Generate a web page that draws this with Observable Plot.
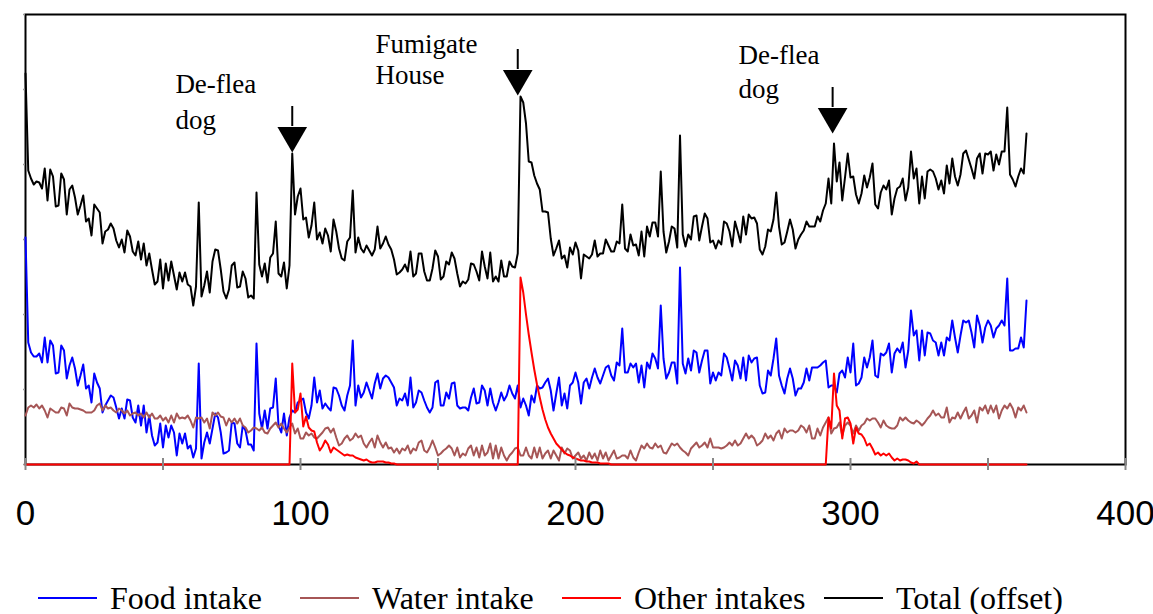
<!DOCTYPE html>
<html><head><meta charset="utf-8">
<script src="https://cdn.jsdelivr.net/npm/d3@7"></script>
<script src="https://cdn.jsdelivr.net/npm/@observablehq/plot@0.6"></script>
<style>
body{margin:0;background:#fff;}
#chart svg{display:block}
#legend{display:flex;align-items:center;height:40px;margin-top:33px;padding-left:38px;font-family:"Liberation Serif","Times New Roman",serif;font-size:32px;color:#000}
.item{width:262px;flex:none;display:flex;align-items:center;white-space:nowrap}
.sw{width:59px;height:2px;margin-right:13px;flex:none}
</style></head><body>
<div id="chart"></div>
<div id="legend"></div>
<script>
// Daily values (arbitrary units), day 0..364
const foodIntake = [
227,122,112,108,108,111,102,127,102,124,
119,91,92,119,114,86,99,107,96,79,
89,100,76,79,62,91,82,76,52,59,
64,69,67,57,46,56,46,65,64,47,
42,59,39,59,32,49,29,19,22,41,
17,39,27,39,32,9,31,21,31,16,
19,7,16,101,6,22,32,21,36,51,
47,32,11,12,14,42,41,21,17,39,
34,20,20,14,121,51,36,54,36,56,
57,86,39,32,51,29,47,54,52,62,
64,66,52,46,59,87,62,74,56,61,
57,54,77,76,69,59,54,69,79,124,
59,79,67,72,82,74,66,81,91,76,
86,89,87,82,77,59,66,64,71,59,
87,57,62,74,72,64,57,52,57,82,
84,59,59,72,66,81,82,59,56,57,
57,54,67,76,61,62,79,74,59,76,
62,54,62,72,64,69,79,71,66,79,
57,66,59,49,69,62,79,76,77,82,
86,74,54,71,87,59,71,56,79,82,
92,82,61,82,86,76,87,96,87,81,
89,97,99,89,84,102,99,136,92,92,
101,97,101,82,99,77,102,96,111,106,
96,159,106,86,92,102,102,81,197,101,
91,106,94,114,112,92,104,114,114,81,
92,84,92,89,111,107,96,84,104,99,
86,107,84,109,102,106,107,79,71,72,
94,89,106,126,89,79,71,86,96,86,
69,76,76,82,96,84,97,97,97,99,
102,104,77,79,79,72,91,94,87,107,
92,121,79,81,87,107,97,107,124,89,
87,111,109,112,121,92,111,116,112,122,
97,114,154,129,134,104,134,109,132,131,
124,122,109,122,109,127,124,144,127,112,
129,144,142,144,132,117,149,139,122,137,
144,139,127,136,139,144,139,186,114,114,
116,116,127,117,164];

const waterIntake = [
49,57,59,57,60,56,59,54,47,56,
54,52,52,57,56,49,61,57,56,56,
55,54,52,52,52,54,59,61,54,59,
56,57,54,52,56,54,51,54,49,51,
52,49,51,47,52,47,51,46,46,49,
44,47,42,49,42,51,46,47,46,49,
44,37,47,46,47,42,46,36,52,49,
52,48,47,39,46,42,46,41,46,39,
37,32,34,37,36,34,37,32,31,36,
39,42,37,41,36,32,37,41,31,36,
26,26,32,29,31,27,26,29,32,36,
37,32,36,27,19,21,26,29,24,26,
31,27,29,21,17,22,26,17,29,22,
17,22,16,17,12,16,11,16,14,19,
11,16,14,22,24,14,12,17,24,17,
9,11,14,16,19,16,9,17,7,11,
9,16,19,9,17,7,19,9,12,21,
6,19,6,17,9,4,9,12,16,17,
9,9,17,9,6,17,7,17,6,11,
14,6,14,9,4,17,11,16,14,6,
9,12,6,9,4,12,6,11,4,14,
6,12,4,9,14,6,7,9,9,6,
14,7,4,12,19,16,21,17,16,21,
17,19,12,11,16,21,19,21,17,14,
12,9,16,19,22,17,19,22,17,26,
17,17,17,16,17,19,22,19,24,19,
21,26,31,26,29,26,19,21,24,31,
26,29,24,31,34,26,36,32,34,34,
32,34,39,37,32,39,26,26,36,29,
37,42,47,31,36,37,42,29,39,42,
39,31,39,34,39,41,46,44,46,46,
42,37,44,39,37,36,36,39,47,44,
47,44,42,41,44,42,39,42,46,49,
54,49,51,47,47,57,42,47,46,52,
46,52,57,46,49,54,42,57,54,59,
51,59,52,59,46,54,59,56,61,56,
47,57,54,59,52];

const otherIntakes = [
...new Array(97).fill(0),
101,52,55,71,38,48,37,34,33,22,
14,18,24,20,12,17,15,13,11,9,
10,9,9,7,6,5,4,5,3,2,
2,3,3,3,2,2,1,1,
...new Array(45).fill(0),
187,172,150,130,112,95,80,67,55,45,
37,31,26,21,18,15,12,10,9,7,
6,5,4,4,3,3,2,2,2,1,
1,1,1,
...new Array(79).fill(0),
47,36,91,59,54,26,46,47,41,21,
37,31,30,26,19,21,16,10,12,9,
11,9,11,7,4,6,4,5,5,4,
2,1,3,
...new Array(40).fill(0)];

const totalOffset = 115;
const seriesNames = ["Food intake", "Water intake", "Other intakes", "Total (offset)"];
const seriesColors = ["#0000ff", "#a65656", "#ff0000", "#000000"];
const xTicks = [0, 50, 100, 150, 200, 250, 300, 350, 400];
const xLabels = [0, 100, 200, 300, 400];
const yTicks = [0, 75, 150, 225, 300, 375, 450];
const eventArrows = [{day: 97, tip: 312}, {day: 179, tip: 369}, {day: 293.5, tip: 331}];
const eventLabels = [
  {day: 54.5, y: 372, text: "De-flea"}, {day: 54.5, y: 336, text: "dog"},
  {day: 127.3, y: 412, text: "Fumigate"}, {day: 127.3, y: 381, text: "House"},
  {day: 259.3, y: 401, text: "De-flea"}, {day: 259.3, y: 367, text: "dog"}
];

const rows = foodIntake.map((v, i) => ({
  day: i, food: v, water: waterIntake[i], other: otherIntakes[i],
  total: v + waterIntake[i] + otherIntakes[i] + totalOffset
}));
const keys = ["food", "water", "other", "total"];

const serif = "'Liberation Serif', 'Times New Roman', serif";
const sans = "'Liberation Sans', Arial, sans-serif";

const plot = Plot.plot({
  width: 1153, height: 545,
  marginLeft: 25, marginRight: 28, marginTop: 14, marginBottom: 81,
  x: {domain: [0, 400]},
  y: {domain: [0, 450]},
  style: {background: "white", overflow: "visible"},
  marks: [
    Plot.frame({stroke: "black", strokeWidth: 2}),
    Plot.axisY({ticks: yTicks, tickSize: 2, tickFormat: () => "", stroke: "#999", strokeWidth: 1.5, label: null}),
    ...keys.map((k, j) => Plot.lineY(rows, {x: "day", y: k, stroke: seriesColors[j], strokeWidth: 2})),
    Plot.ruleX(xTicks, {x: d => d, y1: () => 0, y2: () => 0, insetTop: 6, insetBottom: 6, stroke: "#888", strokeWidth: 2}),
    Plot.axisX({ticks: xLabels, tickSize: 0, tickPadding: 36, fontSize: 35, fontFamily: sans, label: null, tickFormat: d => String(d)}),
    Plot.ruleX(eventArrows, {x: "day", y1: d => d.tip + 26, y2: d => d.tip + 46, stroke: "black", strokeWidth: 2}),
    Plot.dot(eventArrows, {x: "day", y: d => d.tip + 17, symbol: "triangle", r: 11, rotate: 180, fill: "black", stroke: null}),
    Plot.text(eventLabels, {x: "day", y: "y", text: "text", textAnchor: "start", lineAnchor: "bottom", fontSize: 27, fontFamily: serif, fill: "black"})
  ]
});
document.getElementById("chart").append(plot);

const legend = document.getElementById("legend");
seriesNames.forEach((name, j) => {
  const item = document.createElement("div");
  item.className = "item";
  const sw = document.createElement("div");
  sw.className = "sw";
  sw.style.background = seriesColors[j];
  const t = document.createElement("span");
  t.textContent = name;
  item.append(sw, t);
  legend.append(item);
});
</script>
</body></html>
